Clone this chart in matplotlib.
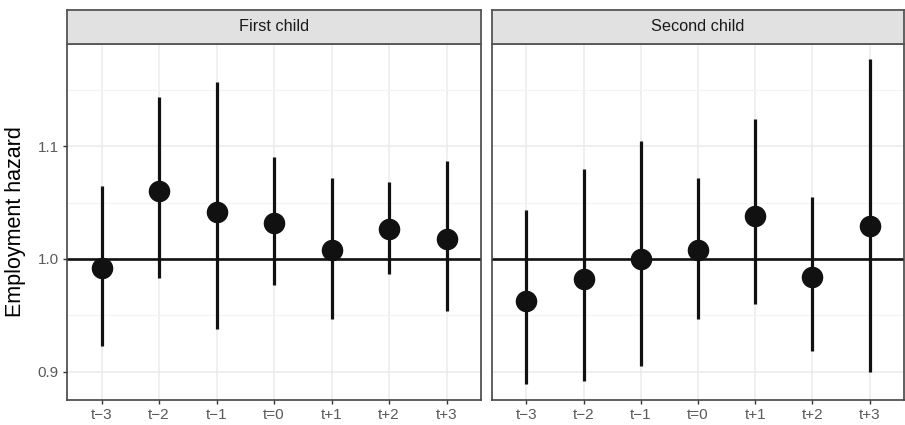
import matplotlib
matplotlib.use("Agg")
import matplotlib.pyplot as plt
import numpy as np

plt.rcParams['font.family'] = ['Liberation Sans', 'DejaVu Sans']

periods = ['t\u22123', 't\u22122', 't\u22121', 't=0', 't+1', 't+2', 't+3']
panels = ['First child', 'Second child']

first_est = [0.992, 1.060, 1.042, 1.032, 1.008, 1.027, 1.018]
first_lo = [0.923, 0.983, 0.938, 0.977, 0.947, 0.987, 0.954]
first_hi = [1.065, 1.144, 1.157, 1.090, 1.072, 1.068, 1.087]

second_est = [0.963, 0.982, 1.000, 1.008, 1.038, 0.984, 1.029]
second_lo = [0.889, 0.892, 0.905, 0.947, 0.960, 0.918, 0.900]
second_hi = [1.043, 1.080, 1.105, 1.072, 1.124, 1.055, 1.177]

data = [(first_est, first_lo, first_hi), (second_est, second_lo, second_hi)]

W, H = 905, 425
fig = plt.figure(figsize=(W / 100, H / 100), dpi=100)

boxes = [(67, 481), (492, 904)]
top, bottom, strip_top = 43.5, 400, 10
x = np.arange(1, len(periods) + 1)

for i, ((x0, x1), (est, lo, hi)) in enumerate(zip(boxes, data)):
    ax = fig.add_axes([x0 / W, 1 - bottom / H, (x1 - x0) / W, (bottom - top) / H])
    ax.set_xlim(0.4, 7.6)
    ax.set_ylim(0.875, 1.191)
    ax.set_yticks([0.9, 1.0, 1.1])
    ax.set_yticks([0.95, 1.05, 1.15], minor=True)
    ax.set_xticks(x)
    ax.set_xticklabels(periods)
    ax.grid(which='major', color='#EBEBEB', lw=1.1, zorder=0)
    ax.grid(which='minor', axis='y', color='#F3F3F3', lw=0.8, zorder=0)
    ax.set_axisbelow(True)
    for s in ax.spines.values():
        s.set_color('#444444')
        s.set_linewidth(1.2)
    ax.tick_params(which='major', length=3, width=1.0, color='#333333',
                   labelcolor='#5A5A5A', labelsize=11, pad=3)
    ax.tick_params(which='minor', length=0)
    if i == 0:
        ax.set_yticklabels(['0.9', '1.0', '1.1'])
        ax.set_ylabel('Employment hazard', fontsize=15.5, labelpad=8)
    else:
        ax.tick_params(axis='y', which='both', left=False, labelleft=False)

    ax.axhline(1.0, color='#111111', lw=1.9, zorder=2)
    ax.vlines(x, lo, hi, color='#111111', lw=2.3, zorder=3)
    ax.plot(x, est, 'o', color='#111111', ms=14.5, zorder=4)

    sax = fig.add_axes([x0 / W, 1 - top / H, (x1 - x0) / W, (top - strip_top) / H])
    sax.set_facecolor('#E1E1E1')
    sax.set_xticks([])
    sax.set_yticks([])
    for s in sax.spines.values():
        s.set_color('#555555')
        s.set_linewidth(1.3)
    sax.text(0.5, 0.5, panels[i], ha='center', va='center', fontsize=11.7,
             color='#1A1A1A', transform=sax.transAxes)

fig.savefig('out.png', dpi=100)
